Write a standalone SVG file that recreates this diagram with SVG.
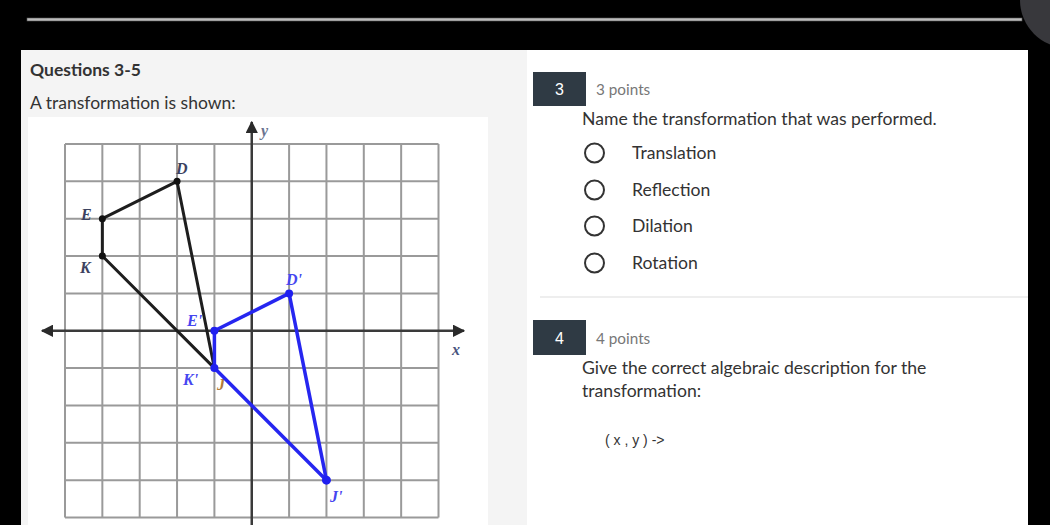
<svg xmlns="http://www.w3.org/2000/svg" width="1050" height="525" viewBox="0 0 1050 525">
<style>
.ui{font-family:Lato,"Liberation Sans",sans-serif}
.grid line{stroke:#9a9a9a;stroke-width:2}
.axis{stroke:#3a3a3a;stroke-width:2.5}
.lbl{font-family:"Liberation Serif",serif;font-style:italic;font-weight:bold;font-size:16px}
.blk{fill:#3c4260}
.blu{fill:#4646f0}
.opt{font-size:17.6px;fill:#333}
.radio{fill:none;stroke:#333;stroke-width:2}
.qbox{fill:#2f3a44}
</style>
<defs>
<marker id="ah" viewBox="0 0 10 10" refX="9" refY="5" markerWidth="5" markerHeight="5" orient="auto-start-reverse" markerUnits="strokeWidth">
<path d="M0,0 L10,5 L0,10 z" fill="#2a2a2a"/>
</marker>
</defs>
<rect width="1050" height="525" fill="#000"/>
<circle cx="1068" cy="0" r="48" fill="#38383c"/>
<rect x="27" y="18" width="995" height="3" fill="#bcbcbc" stroke="#555" stroke-width="0.6"/>
<rect x="21" y="50" width="1007" height="475" fill="#f4f4f4"/>
<rect x="527" y="50" width="501" height="475" fill="#ffffff"/>
<g id="header" class="ui">
<text x="30" y="76" font-size="17.5" font-weight="bold" fill="#333">Questions 3-5</text>
<text x="30" y="109" font-size="17.5" fill="#333">A transformation is shown:</text>
</g>
<g id="graph">
<rect x="28" y="117" width="460" height="408" fill="#fff"/>
<g class="grid">
<line x1="65" y1="144" x2="65" y2="517.5"/>
<line x1="102.35" y1="144" x2="102.35" y2="517.5"/>
<line x1="139.7" y1="144" x2="139.7" y2="517.5"/>
<line x1="177.05" y1="144" x2="177.05" y2="517.5"/>
<line x1="214.4" y1="144" x2="214.4" y2="517.5"/>
<line x1="289.1" y1="144" x2="289.1" y2="517.5"/>
<line x1="326.45" y1="144" x2="326.45" y2="517.5"/>
<line x1="363.8" y1="144" x2="363.8" y2="517.5"/>
<line x1="401.15" y1="144" x2="401.15" y2="517.5"/>
<line x1="438.5" y1="144" x2="438.5" y2="517.5"/>
<line x1="65" y1="144" x2="438.5" y2="144"/>
<line x1="65" y1="181.35" x2="438.5" y2="181.35"/>
<line x1="65" y1="218.7" x2="438.5" y2="218.7"/>
<line x1="65" y1="256.05" x2="438.5" y2="256.05"/>
<line x1="65" y1="293.4" x2="438.5" y2="293.4"/>
<line x1="65" y1="368.1" x2="438.5" y2="368.1"/>
<line x1="65" y1="405.45" x2="438.5" y2="405.45"/>
<line x1="65" y1="442.8" x2="438.5" y2="442.8"/>
<line x1="65" y1="480.15" x2="438.5" y2="480.15"/>
<line x1="65" y1="517.5" x2="438.5" y2="517.5"/>
</g>
<line class="axis" x1="251.75" y1="525" x2="251.75" y2="122" marker-end="url(#ah)"/>
<line class="axis" x1="42" y1="330.75" x2="464" y2="330.75" marker-start="url(#ah)" marker-end="url(#ah)"/>
<text class="lbl" x="261" y="136" font-size="15" fill="#6a7490">y</text>
<text class="lbl" x="452" y="355" font-size="14" fill="#4a5480">x</text>
</g>
<g id="original">
<polygon points="177.05,181.35 102.35,218.7 102.35,256.05 214.4,368.1" fill="none" stroke="#1e1e1e" stroke-width="3" stroke-linejoin="round"/>
<circle cx="177.05" cy="181.35" r="3.5" fill="#111"/>
<circle cx="102.35" cy="218.7" r="3.5" fill="#111"/>
<circle cx="102.35" cy="256.05" r="3.5" fill="#111"/>
<text class="lbl blk" x="176" y="174">D</text>
<text class="lbl blk" x="81" y="220">E</text>
<text class="lbl blk" x="80" y="273">K</text>
<text class="lbl" x="217" y="390" fill="#b07a3a">J</text>
</g>
<g id="image">
<polygon points="289.1,293.4 214.4,330.75 214.4,368.1 326.45,480.15" fill="none" stroke="#2626f0" stroke-width="3.5" stroke-linejoin="round"/>
<circle cx="289.1" cy="293.4" r="4" fill="#2020f0"/>
<circle cx="214.4" cy="330.75" r="4" fill="#2020f0"/>
<circle cx="214.4" cy="368.1" r="4" fill="#2020f0"/>
<circle cx="326.45" cy="480.15" r="4.5" fill="#2020f0"/>
<text class="lbl blu" x="286" y="285">D'</text>
<text class="lbl blu" x="187" y="326">E'</text>
<text class="lbl blu" x="183" y="385">K'</text>
<text class="lbl blu" x="330" y="502">J'</text>
</g>
<g id="q3" class="ui">
<rect class="qbox" x="533" y="72" width="53" height="34"/>
<text x="559.5" y="95" font-size="16" fill="#fff" text-anchor="middle" font-family="'Liberation Sans',sans-serif">3</text>
<text x="596" y="95" font-size="15.3" fill="#777">3 points</text>
<text x="582" y="125" font-size="17.6" fill="#333">Name the transformation that was performed.</text>
<circle class="radio" cx="594.5" cy="153" r="9.5"/>
<text class="opt" x="632" y="159">Translation</text>
<circle class="radio" cx="594.5" cy="190" r="9.5"/>
<text class="opt" x="632" y="196">Reflection</text>
<circle class="radio" cx="594.5" cy="226" r="9.5"/>
<text class="opt" x="632" y="232">Dilation</text>
<circle class="radio" cx="594.5" cy="263" r="9.5"/>
<text class="opt" x="632" y="269">Rotation</text>
</g>
<line x1="540" y1="297" x2="1028" y2="297" stroke="#e8e8e8" stroke-width="1.5"/>
<g id="q4" class="ui">
<rect class="qbox" x="533" y="320" width="53" height="35"/>
<text x="559.5" y="344" font-size="16" fill="#fff" text-anchor="middle" font-family="'Liberation Sans',sans-serif">4</text>
<text x="596" y="344" font-size="15.3" fill="#777">4 points</text>
<text x="582" y="374" font-size="17.6" fill="#333">Give the correct algebraic description for the</text>
<text x="582" y="397" font-size="17.6" fill="#333">transformation:</text>
<text x="605" y="445" font-size="14" fill="#333" font-family="'Liberation Sans',sans-serif">( x , y ) -&gt;</text>
</g>
</svg>
